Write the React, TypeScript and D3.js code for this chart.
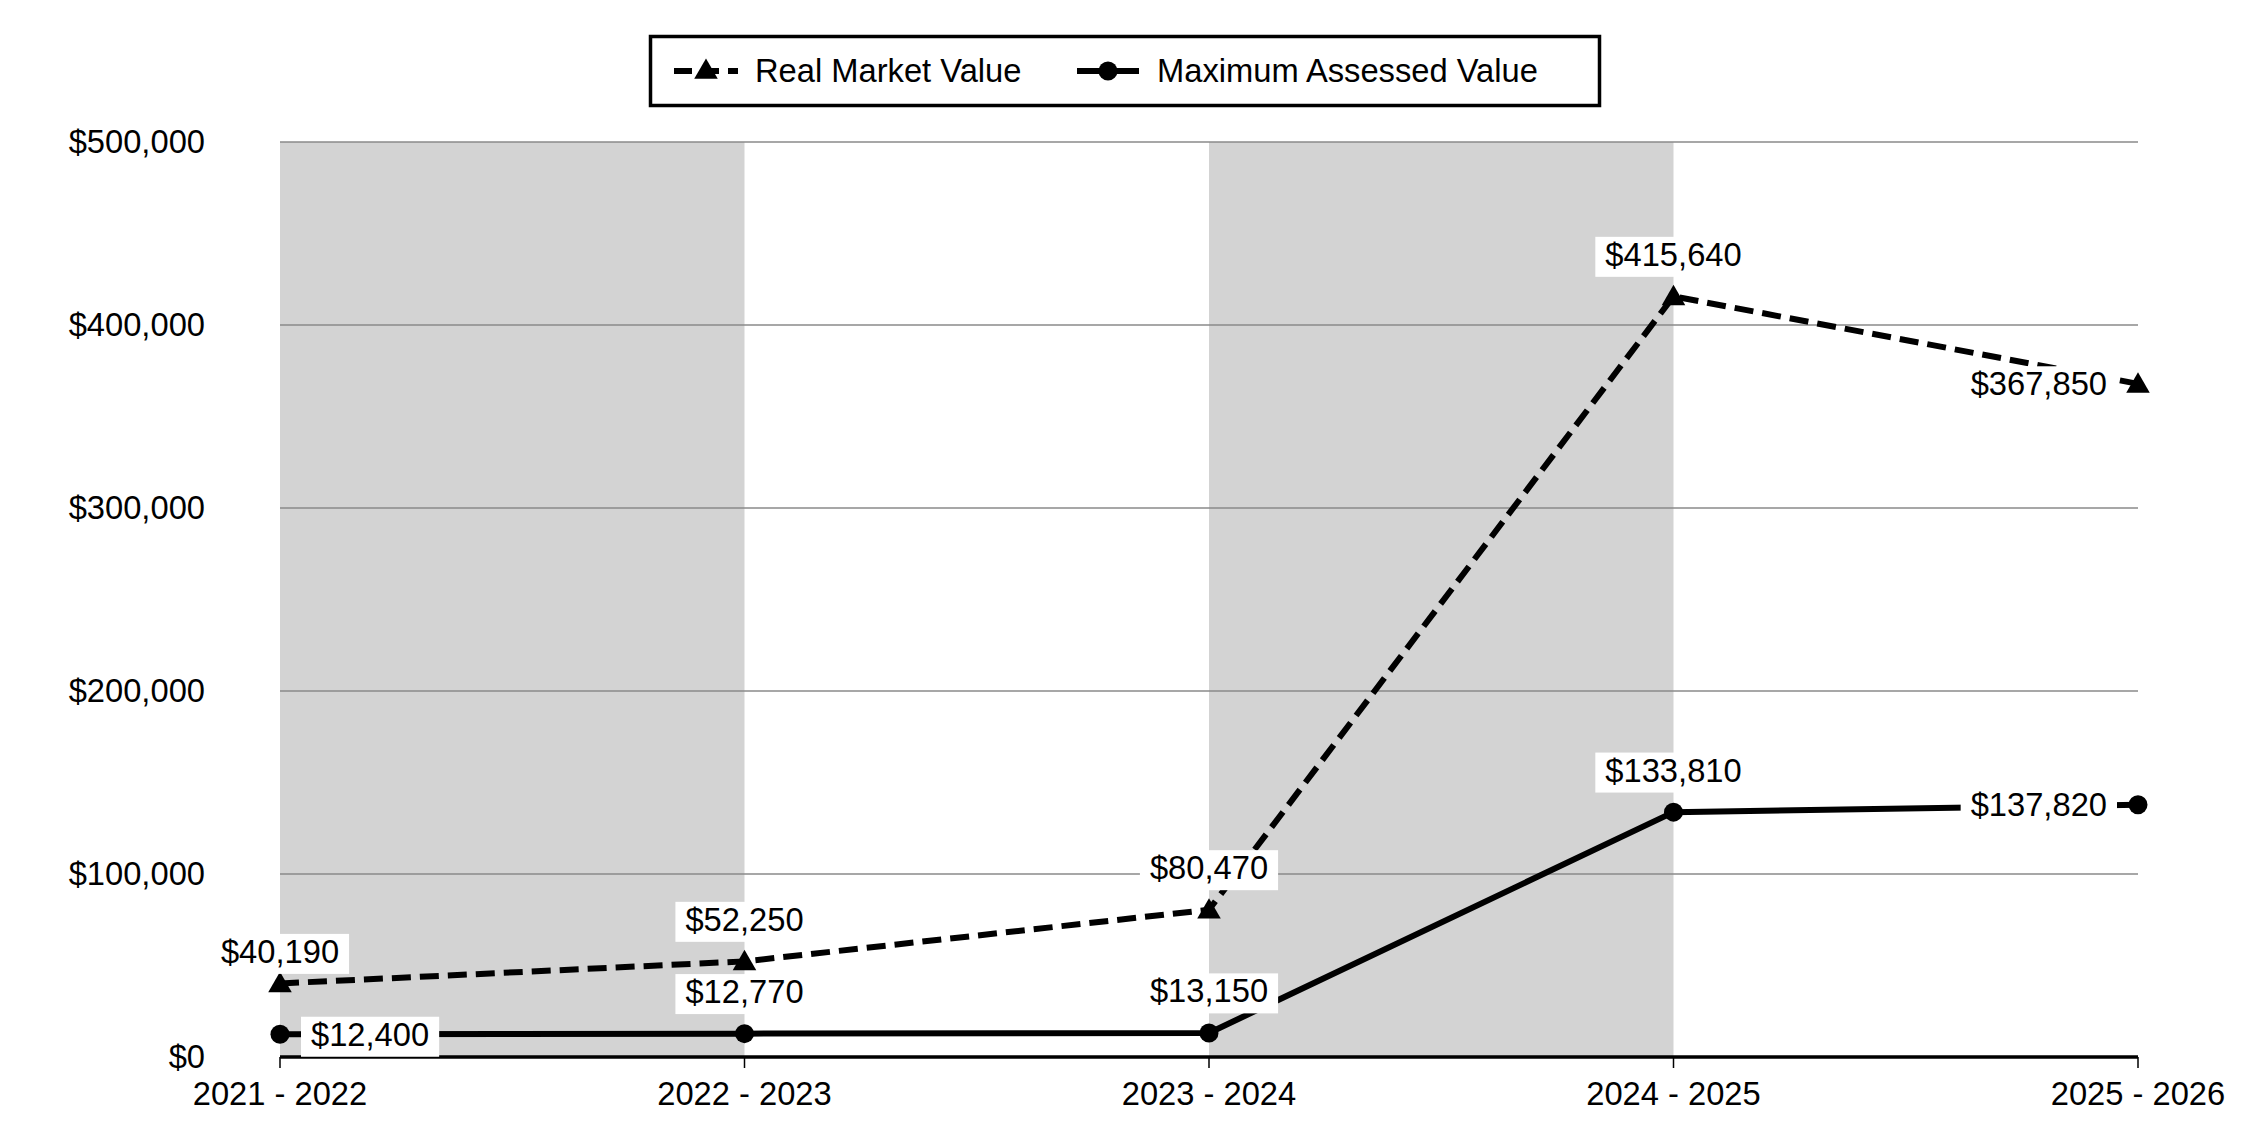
import { useRef, useEffect } from 'react';
import * as d3 from 'd3';

const periods = ['2021 - 2022', '2022 - 2023', '2023 - 2024', '2024 - 2025', '2025 - 2026'];
const realMarketValue = [40190, 52250, 80470, 415640, 367850];
const maxAssessedValue = [12400, 12770, 13150, 133810, 137820];
const yTicks = [0, 100000, 200000, 300000, 400000, 500000];
const shadedBands = [0, 2];

// where each data label sits relative to its point
const rmvLabelPos = ['near', 'above', 'above', 'above', 'left'];
const mavLabelPos = ['right', 'above', 'above', 'above', 'left'];

const W = 2250;
const H = 1140;
const FONT = '"Liberation Sans", Arial, Helvetica, sans-serif';
const FS = 32.7;

export default function App() {
  const svgRef = useRef<SVGSVGElement>(null);

  useEffect(() => {
    if (!svgRef.current) return;
    const svg = d3.select(svgRef.current);
    svg.selectAll('*').remove();

    const left = 280;
    const right = 2138;
    const top = 142;
    const bottom = 1057;

    const x = d3.scalePoint<string>().domain(periods).range([left, right]);
    const y = d3.scaleLinear().domain([0, 500000]).range([bottom, top]);
    const fmt = d3.format('$,');

    svg.append('rect').attr('width', W).attr('height', H).attr('fill', '#fff');

    // alternating bands
    svg.append('g')
      .selectAll('rect')
      .data(shadedBands)
      .enter()
      .append('rect')
      .attr('x', i => x(periods[i])!)
      .attr('y', top)
      .attr('width', i => x(periods[i + 1])! - x(periods[i])!)
      .attr('height', bottom - top)
      .attr('fill', '#d3d3d3');

    // gridlines
    svg.append('g')
      .selectAll('line')
      .data(yTicks)
      .enter()
      .append('line')
      .attr('x1', left)
      .attr('x2', right)
      .attr('y1', d => y(d))
      .attr('y2', d => y(d))
      .attr('stroke', '#8a8a8a')
      .attr('stroke-width', 1.5);

    // y labels
    svg.append('g')
      .selectAll('text')
      .data(yTicks)
      .enter()
      .append('text')
      .attr('x', 205)
      .attr('y', d => y(d))
      .attr('dy', '0.35em')
      .attr('text-anchor', 'end')
      .attr('font-family', FONT)
      .attr('font-size', FS)
      .attr('fill', '#000')
      .text(d => fmt(d));

    // x axis
    const xAxis = svg.append('g').attr('transform', `translate(0,${bottom})`);
    xAxis.append('line')
      .attr('x1', left)
      .attr('x2', right)
      .attr('stroke', '#000')
      .attr('stroke-width', 3.5);
    xAxis.selectAll('line.tick')
      .data(periods)
      .enter()
      .append('line')
      .attr('class', 'tick')
      .attr('x1', d => x(d)!)
      .attr('x2', d => x(d)!)
      .attr('y1', 0)
      .attr('y2', 11)
      .attr('stroke', '#000')
      .attr('stroke-width', 1.5);
    xAxis.selectAll('text')
      .data(periods)
      .enter()
      .append('text')
      .attr('x', d => x(d)!)
      .attr('y', 37)
      .attr('dy', '0.35em')
      .attr('text-anchor', 'middle')
      .attr('font-family', FONT)
      .attr('font-size', FS)
      .attr('fill', '#000')
      .text(d => d);

    const line = d3.line<number>()
      .x((_, i) => x(periods[i])!)
      .y(d => y(d));

    // Real Market Value (dashed)
    svg.append('path')
      .datum(realMarketValue)
      .attr('d', line)
      .attr('fill', 'none')
      .attr('stroke', '#000')
      .attr('stroke-width', 6)
      .attr('stroke-dasharray', '19,9');

    // Maximum Assessed Value (solid)
    svg.append('path')
      .datum(maxAssessedValue)
      .attr('d', line)
      .attr('fill', 'none')
      .attr('stroke', '#000')
      .attr('stroke-width', 6);

    const tri = d3.symbol().type(d3.symbolTriangle).size(240);

    svg.append('g')
      .selectAll('path')
      .data(realMarketValue)
      .enter()
      .append('path')
      .attr('d', tri)
      .attr('transform', (d, i) => `translate(${x(periods[i])},${y(d) + 2})`)
      .attr('fill', '#000');

    svg.append('g')
      .selectAll('circle')
      .data(maxAssessedValue)
      .enter()
      .append('circle')
      .attr('cx', (_, i) => x(periods[i])!)
      .attr('cy', d => y(d))
      .attr('r', 9.5)
      .attr('fill', '#000');

    // data labels with white boxes
    const labels = svg.append('g');
    const addLabel = (value: number, i: number, pos: string) => {
      const px = x(periods[i])!;
      const py = y(value);
      const g = labels.append('g');
      const t = g.append('text')
        .attr('font-family', FONT)
        .attr('font-size', FS)
        .attr('fill', '#000')
        .attr('dy', '0.35em')
        .text(fmt(value));
      if (pos === 'above') {
        t.attr('x', px).attr('y', py - 42).attr('text-anchor', 'middle');
      } else if (pos === 'near') {
        t.attr('x', px).attr('y', py - 32).attr('text-anchor', 'middle');
      } else if (pos === 'left') {
        t.attr('x', px - 31).attr('y', py).attr('text-anchor', 'end');
      } else {
        t.attr('x', px + 31).attr('y', py).attr('text-anchor', 'start');
      }
      const bb = (t.node() as SVGTextElement).getBBox();
      g.insert('rect', 'text')
        .attr('x', bb.x - 10)
        .attr('y', bb.y + 1)
        .attr('width', bb.width + 20)
        .attr('height', bb.height + 3)
        .attr('fill', '#fff');
    };
    realMarketValue.forEach((v, i) => addLabel(v, i, rmvLabelPos[i]));
    maxAssessedValue.forEach((v, i) => addLabel(v, i, mavLabelPos[i]));

    // legend
    const legend = svg.append('g');
    legend.append('rect')
      .attr('x', 650.5)
      .attr('y', 36.5)
      .attr('width', 949)
      .attr('height', 69)
      .attr('fill', '#fff')
      .attr('stroke', '#000')
      .attr('stroke-width', 3.5);

    const ly = 71;
    legend.append('line')
      .attr('x1', 674).attr('x2', 738).attr('y1', ly).attr('y2', ly)
      .attr('stroke', '#000').attr('stroke-width', 6)
      .attr('stroke-dasharray', '18,9');
    legend.append('path')
      .attr('d', tri)
      .attr('transform', `translate(706,${ly + 1})`)
      .attr('fill', '#000');
    legend.append('text')
      .attr('x', 755).attr('y', ly).attr('dy', '0.35em')
      .attr('font-family', FONT).attr('font-size', FS).attr('fill', '#000')
      .text('Real Market Value');

    legend.append('line')
      .attr('x1', 1077).attr('x2', 1139).attr('y1', ly).attr('y2', ly)
      .attr('stroke', '#000').attr('stroke-width', 6);
    legend.append('circle')
      .attr('cx', 1108).attr('cy', ly).attr('r', 9.5).attr('fill', '#000');
    legend.append('text')
      .attr('x', 1157).attr('y', ly).attr('dy', '0.35em')
      .attr('font-family', FONT).attr('font-size', FS).attr('fill', '#000')
      .text('Maximum Assessed Value');
  }, []);

  return (
    <svg
      ref={svgRef}
      width={W}
      height={H}
      style={{ position: 'absolute', left: 0, top: 0, display: 'block' }}
    />
  );
}
